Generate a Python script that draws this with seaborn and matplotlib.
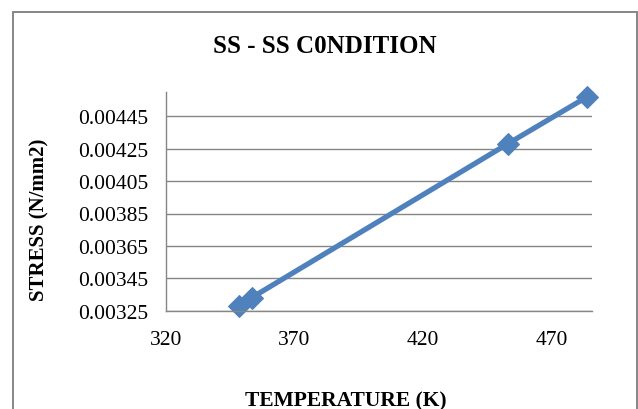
import matplotlib
matplotlib.use("Agg")
import matplotlib.pyplot as plt
import seaborn as sns
import pandas as pd
from matplotlib.patches import Rectangle

# Measured values
temperature = [348.3, 353.3, 453.0, 483.9]
stress = [0.00328, 0.00333, 0.00428, 0.00457]
x_ticks = [320, 370, 420, 470]
y_ticks = [0.00325, 0.00345, 0.00365, 0.00385, 0.00405, 0.00425, 0.00445]

df = pd.DataFrame({"Temperature (K)": temperature, "Stress (N/mm2)": stress})

sns.set_style("white")
plt.rcParams["font.family"] = ["Liberation Serif", "DejaVu Serif"]
plt.rcParams["text.color"] = "black"
plt.rcParams["xtick.color"] = "black"
plt.rcParams["ytick.color"] = "black"

W, H = 638, 410
fig = plt.figure(figsize=(W / 100, H / 100), dpi=100)
left, right, bottom, top = 166 / W, 591.7 / W, 1 - 311.7 / H, 1 - 93 / H
ax = fig.add_axes([left, bottom, right - left, top - bottom])

sns.lineplot(data=df, x="Temperature (K)", y="Stress (N/mm2)", ax=ax,
             color="#4F81BD", linewidth=3.8, marker="D", markersize=11,
             markeredgecolor="#4F81BD", sort=False, clip_on=False)

ax.set_xlim(320, 485.7)
ax.set_ylim(0.00325, 0.0046)
ax.set_xticks(x_ticks)
ax.set_yticks(y_ticks)
ax.set_xticklabels([str(t) for t in x_ticks], fontsize=15.5)
ax.set_yticklabels([f"{t:.5f}" for t in y_ticks], fontsize=15.5)
ax.tick_params(axis="x", length=0, pad=14)
ax.tick_params(axis="y", length=0, pad=12.7)

ax.yaxis.grid(True, color="#868686", linewidth=1.0)
ax.xaxis.grid(False)
ax.set_axisbelow(True)
for side in ["top", "right"]:
    ax.spines[side].set_visible(False)
for side in ["left", "bottom"]:
    ax.spines[side].set_color("#868686")
    ax.spines[side].set_linewidth(1.0)

ax.set_xlabel("")
ax.set_ylabel("")
fig.text(346 / W, 1 - 406 / H, "TEMPERATURE (K)", ha="center", va="baseline",
         fontsize=15.5, fontweight="bold")
fig.text(39 / W, 1 - 220 / H, "STRESS (N/mm2)", ha="center", va="center",
         rotation=90, fontsize=15, fontweight="bold")
fig.text(325 / W, 1 - 53.3 / H, "SS - SS C0NDITION", ha="center", va="baseline",
         fontsize=18, fontweight="bold")

# Chart-area frame
fig.patches.append(Rectangle((13 / W, -0.05), (636.5 - 13) / W, 1 - 13 / H + 0.05,
                             transform=fig.transFigure, fill=False,
                             edgecolor="#868686", linewidth=1.4))

fig.savefig("out.png", dpi=100)
